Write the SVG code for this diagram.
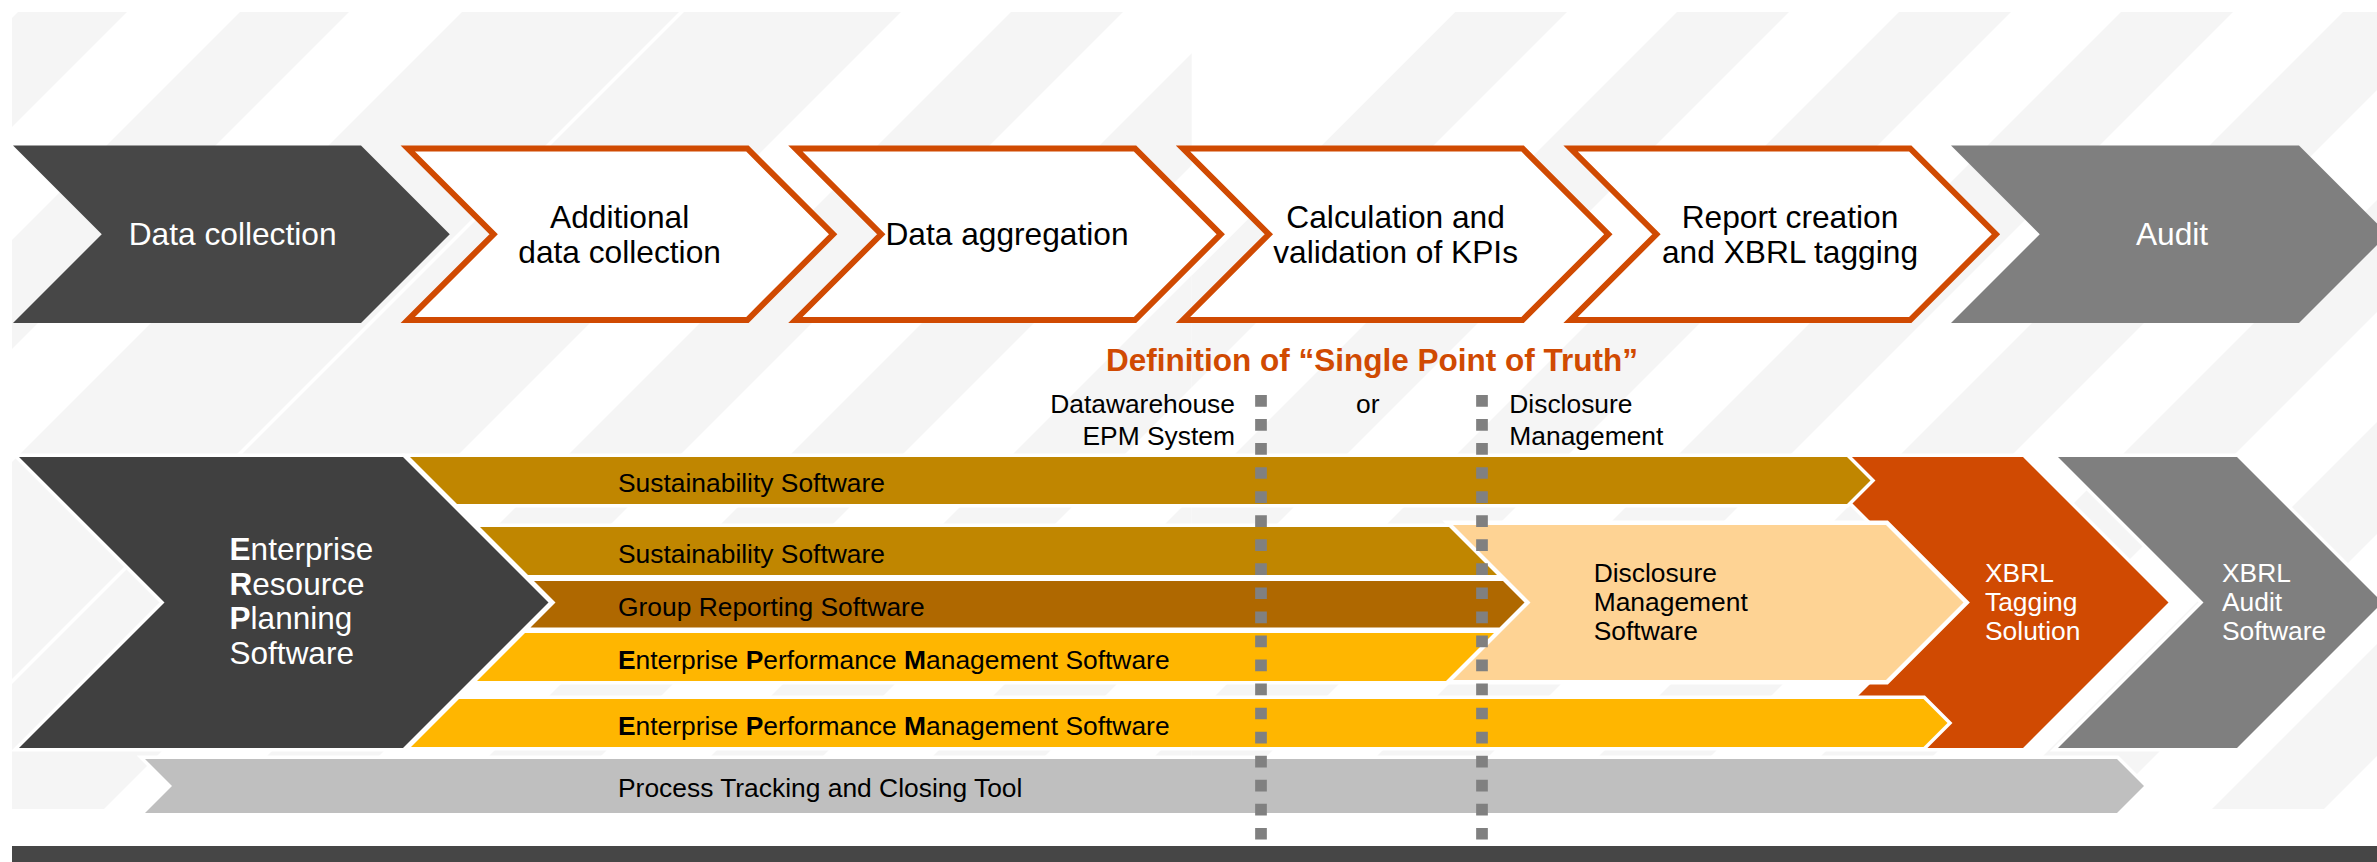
<svg xmlns="http://www.w3.org/2000/svg" xmlns:xlink="http://www.w3.org/1999/xlink" width="2377" height="862" viewBox="0 0 2377 862">
  <style>
    text { font-family: "Liberation Sans", Arial, sans-serif; }
    .t32 { font-size: 31.7px; }
    .t26 { font-size: 26.4px; fill: #000; }
    .erp { font-size: 31.5px; fill: #fff; }
    .wt { fill: #fff; }
    .bk { fill: #000; }
    .mid { text-anchor: middle; }
    .end { text-anchor: end; }
    .b { font-weight: bold; }
    .title { font-size: 31.5px; font-weight: bold; fill: #D04A02; }
    .outl { fill: #fff; stroke: #D04A02; stroke-width: 6; stroke-linejoin: miter; }
    .wo { stroke: #fff; stroke-width: 7; paint-order: stroke; stroke-linejoin: miter; }
    .wo9 { stroke: #fff; stroke-width: 9; paint-order: stroke; stroke-linejoin: miter; }
    .dash { stroke: #808080; stroke-width: 11.7; stroke-dasharray: 11.7 12.35; fill: none; }
  </style>
  <defs>
    <!-- diagonal background bands, two phases -->
    <pattern id="stripeA" patternUnits="userSpaceOnUse" width="222" height="8" patternTransform="skewX(-45)">
      <rect x="30" y="0" width="109" height="8" fill="#F5F5F5"/>
    </pattern>
    <pattern id="stripeB" patternUnits="userSpaceOnUse" width="222" height="8" patternTransform="skewX(-45)">
      <rect x="135" y="0" width="87" height="8" fill="#F5F5F5"/>
      <rect x="0" y="0" width="25" height="8" fill="#F5F5F5"/>
    </pattern>
    <!-- process step chevron (solid) and its inset outline version -->
    <path id="chev" d="M0,0 H348 L436.75,88.75 L348,177.5 H0 L88.75,88.75 Z"/>
    <path id="chevIn" d="M7.24,3 H346.76 L432.5,88.75 L346.76,174.5 H7.24 L93,88.75 Z"/>
  </defs>

  <rect x="0" y="0" width="2377" height="862" fill="#fff"/>

  <!-- background bands -->
  <g id="background">
    <polygon points="12,12 903,12 106,809 12,809" fill="url(#stripeA)"/>
    <polygon points="459,12 1191.7,12 1191.7,809 12,809 12,459" fill="url(#stripeB)"/>
    <polygon points="1455,12 2377,12 2377,809 1191.7,809 1191.7,275.3" fill="url(#stripeB)"/>
    <rect x="12" y="846" width="2365" height="16" fill="#464646"/>
  </g>

  <!-- process steps -->
  <g id="step-data-collection">
    <use xlink:href="#chev" href="#chev" x="13" y="145.5" fill="#474747"/>
    <text class="t32 wt mid" x="232.6" y="245">Data collection</text>
  </g>
  <g id="step-additional-data">
    <use xlink:href="#chevIn" href="#chevIn" x="400.6" y="145.5" class="outl"/>
    <text class="t32 bk mid" x="619.6" y="228.3">Additional</text>
    <text class="t32 bk mid" x="619.6" y="263.3">data collection</text>
  </g>
  <g id="step-aggregation">
    <use xlink:href="#chevIn" href="#chevIn" x="788.2" y="145.5" class="outl"/>
    <text class="t32 bk mid" x="1007" y="245">Data aggregation</text>
  </g>
  <g id="step-kpis">
    <use xlink:href="#chevIn" href="#chevIn" x="1175.8" y="145.5" class="outl"/>
    <text class="t32 bk mid" x="1395.6" y="228.3">Calculation and</text>
    <text class="t32 bk mid" x="1395.6" y="263.3">validation of KPIs</text>
  </g>
  <g id="step-report">
    <use xlink:href="#chevIn" href="#chevIn" x="1563.4" y="145.5" class="outl"/>
    <text class="t32 bk mid" x="1790" y="228.3">Report creation</text>
    <text class="t32 bk mid" x="1790" y="263.3">and XBRL tagging</text>
  </g>
  <g id="step-audit">
    <use xlink:href="#chev" href="#chev" x="1951" y="145.5" fill="#7F7F7F"/>
    <text class="t32 wt mid" x="2172" y="245">Audit</text>
  </g>

  <!-- single point of truth labels -->
  <g id="spot-labels">
    <text class="title" x="1106" y="370.5">Definition of “Single Point of Truth”</text>
    <text class="t26 end" x="1235" y="413.3">Datawarehouse</text>
    <text class="t26 end" x="1235" y="445">EPM System</text>
    <text class="t26 mid" x="1367.7" y="413.3">or</text>
    <text class="t26" x="1509.3" y="413.3">Disclosure</text>
    <text class="t26" x="1509.3" y="445">Management</text>
  </g>

  <!-- system landscape -->
  <g id="xbrl-tagging">
    <polygon class="wo" fill="#D04A02" points="1806,457 2023,457 2168.5,602.5 2023,748 1806,748 1951.5,602.5"/>
    <text class="t26 wt" x="1985" y="582">XBRL</text>
    <text class="t26 wt" x="1985" y="611">Tagging</text>
    <text class="t26 wt" x="1985" y="640">Solution</text>
  </g>
  <g id="xbrl-audit">
    <polygon class="wo" fill="#7F7F7F" points="2058,457 2237,457 2382.5,602.5 2237,748 2058,748 2203.5,602.5"/>
    <text class="t26 wt" x="2222" y="582">XBRL</text>
    <text class="t26 wt" x="2222" y="611">Audit</text>
    <text class="t26 wt" x="2222" y="640">Software</text>
  </g>
  <g id="disclosure-mgmt">
    <polygon class="wo9" fill="#FED394" points="1453,525 1886,525 1963.5,602.5 1886,680 1453,680 1530.5,602.5"/>
    <text class="t26" x="1593.7" y="582">Disclosure</text>
    <text class="t26" x="1593.7" y="611">Management</text>
    <text class="t26" x="1593.7" y="640">Software</text>
  </g>
  <g id="sustainability-1">
    <polygon class="wo" fill="#C08600" points="410,457 1847,457 1870.5,480.5 1847,504 457,504"/>
    <text class="t26" x="618" y="492">Sustainability Software</text>
  </g>
  <g id="sustainability-2">
    <polygon class="wo" fill="#C08600" points="480,527 1449,527 1497,575 528,575"/>
    <text class="t26" x="618" y="562.5">Sustainability Software</text>
  </g>
  <g id="group-reporting">
    <polygon class="wo" fill="#AF6800" points="534,581 1503,581 1524.5,602.5 1499.5,627.5 530.5,627.5 555.5,602.5"/>
    <text class="t26" x="618" y="615.5">Group Reporting Software</text>
  </g>
  <g id="epm-1">
    <polygon class="wo" fill="#FFB600" points="525,633 1494,633 1446,681 477,681"/>
    <text class="t26" x="618" y="668.5"><tspan class="b">E</tspan>nterprise <tspan class="b">P</tspan>erformance <tspan class="b">M</tspan>anagement Software</text>
  </g>
  <g id="epm-2">
    <polygon class="wo" fill="#FFB600" points="459,699 1923.5,699 1947.5,723 1923.5,747 411,747"/>
    <text class="t26" x="618" y="734.5"><tspan class="b">E</tspan>nterprise <tspan class="b">P</tspan>erformance <tspan class="b">M</tspan>anagement Software</text>
  </g>
  <g id="process-tracking">
    <polygon class="wo" fill="#BFBFBF" points="145,759 2117,759 2144,786 2117,813 145,813 172,786"/>
    <text class="t26" x="618" y="797">Process Tracking and Closing Tool</text>
  </g>
  <g id="erp">
    <polygon class="wo" fill="#404040" points="19,457 403,457 548.5,602.5 403,748 19,748 164.5,602.5"/>
    <text class="erp" x="229.6" y="560"><tspan class="b">E</tspan>nterprise</text>
    <text class="erp" x="229.6" y="594.5"><tspan class="b">R</tspan>esource</text>
    <text class="erp" x="229.6" y="629"><tspan class="b">P</tspan>lanning</text>
    <text class="erp" x="229.6" y="663.5">Software</text>
  </g>

  <!-- dashed boundaries of the single point of truth -->
  <g id="connectors">
    <line class="dash" x1="1261" y1="395" x2="1261" y2="840"/>
    <line class="dash" x1="1482" y1="395" x2="1482" y2="840"/>
  </g>
</svg>
